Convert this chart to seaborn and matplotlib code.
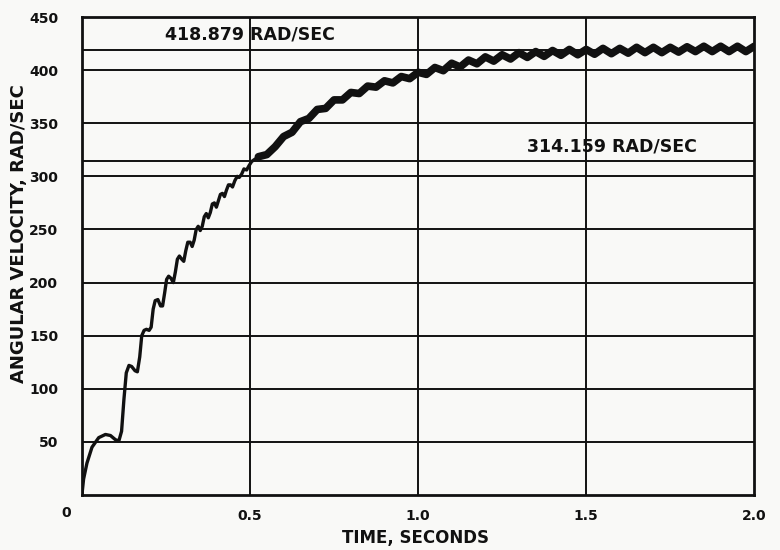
import numpy as np
import pandas as pd
import matplotlib
matplotlib.use("Agg")
import matplotlib.pyplot as plt
import seaborn as sns

# Motor start-up: angular velocity vs time
# early part with the distinct ripples
time_early = [0.000, 0.005, 0.015, 0.030, 0.050, 0.070, 0.085, 0.100, 0.110, 0.118,
              0.125, 0.132, 0.140, 0.148, 0.158, 0.165, 0.172, 0.178, 0.185, 0.192,
              0.200, 0.206, 0.212, 0.218, 0.226, 0.234, 0.240, 0.246, 0.252, 0.258,
              0.265, 0.272, 0.278, 0.284, 0.290, 0.297, 0.303, 0.309, 0.315, 0.322,
              0.328, 0.334, 0.340, 0.346, 0.352, 0.358, 0.364, 0.370, 0.376, 0.382,
              0.388, 0.394, 0.400, 0.406, 0.412, 0.418, 0.424, 0.430, 0.436, 0.442,
              0.448, 0.455, 0.462, 0.468, 0.475, 0.482, 0.490, 0.497, 0.505]
vel_early = [0, 15, 30, 45, 54, 57, 56, 52, 51, 60,
             90, 115, 122, 121, 117, 116, 130, 150, 155, 156,
             155, 158, 175, 183, 184, 178, 178, 190, 203, 206,
             204, 200, 210, 222, 225, 222, 220, 230, 238, 238,
             234, 240, 250, 253, 249, 253, 262, 265, 261, 266,
             274, 275, 271, 277, 283, 284, 281, 287, 292, 292,
             290, 296, 300, 299, 302, 307, 306, 310, 314]

# later part, where the trace becomes a noisy band
time_late = [0.525, 0.55, 0.575, 0.6, 0.625, 0.65, 0.675, 0.7, 0.725, 0.75,
             0.775, 0.8, 0.825, 0.85, 0.875, 0.9, 0.925, 0.95, 0.975, 1.0,
             1.025, 1.05, 1.075, 1.1, 1.125, 1.15, 1.175, 1.2, 1.225, 1.25,
             1.275, 1.3, 1.325, 1.35, 1.375, 1.4, 1.425, 1.45, 1.475, 1.5,
             1.525, 1.55, 1.575, 1.6, 1.625, 1.65, 1.675, 1.7, 1.725, 1.75,
             1.775, 1.8, 1.825, 1.85, 1.875, 1.9, 1.925, 1.95, 1.975, 2.0]
vel_late = [318.5, 320.5, 328, 337.5, 341.5, 351.5, 354.5, 363, 364, 372,
            372, 379, 378, 385, 384, 390, 388, 394, 392, 398,
            396, 402.5, 399.5, 406.5, 403, 409.5, 406, 412.5, 408.5, 414.5,
            410.5, 416.5, 412, 417.5, 413, 418.5, 414, 419.5, 414.5, 419.5,
            415, 420.5, 415.5, 420.5, 416, 421.5, 416.5, 421.5, 416.5, 421.5,
            417, 422, 417.5, 422.5, 417.5, 422.5, 417.5, 422.5, 417.5, 422.5]

ref_values = [418.879, 314.159]
ref_labels = ["418.879 RAD/SEC", "314.159 RAD/SEC"]
ref_label_pos = [(0.248, 434), (1.324, 328)]

y_ticks = [50, 100, 150, 200, 250, 300, 350, 400, 450]
x_ticks = [0.5, 1.0, 1.5, 2.0]

df = pd.DataFrame({"time": time_early + time_late, "vel": vel_early + vel_late})
df_late = pd.DataFrame({"time": time_late, "vel": vel_late})

sns.set_theme(style="white")
plt.rcParams["font.family"] = ["DejaVu Sans"]
plt.rcParams["font.weight"] = "bold"

ink = "#111111"
paper = "#f9f9f7"

fig, ax = plt.subplots(figsize=(7.8, 5.5), dpi=100)
fig.patch.set_facecolor(paper)
ax.set_facecolor(paper)
fig.subplots_adjust(left=0.105, right=0.967, top=0.969, bottom=0.1)

# grid
for y in y_ticks[:-1]:
    ax.axhline(y, color=ink, lw=1.4, zorder=1)
for x in x_ticks[:-1]:
    ax.axvline(x, color=ink, lw=1.4, zorder=1)
for v in ref_values:
    ax.axhline(v, color=ink, lw=1.4, zorder=1)
for txt, (tx, ty) in zip(ref_labels, ref_label_pos):
    ax.text(tx, ty, txt, fontsize=12.5, fontweight="bold", color=ink,
            va="center", ha="left", zorder=3)

sns.lineplot(data=df, x="time", y="vel", color=ink, lw=2.4, sort=False, ax=ax, zorder=4)
sns.lineplot(data=df_late, x="time", y="vel", color=ink, lw=5.5, sort=False, ax=ax, zorder=4)

ax.set_xlim(0, 2.0)
ax.set_ylim(0, 450)
ax.set_xticks(x_ticks)
ax.set_xticklabels([f"{x:.1f}" for x in x_ticks])
ax.set_yticks(y_ticks)
ax.set_yticklabels([str(y) for y in y_ticks])
ax.tick_params(axis="both", length=0, labelsize=10, colors=ink)
ax.tick_params(axis="y", pad=17)
ax.tick_params(axis="x", pad=10)
for lab in ax.get_xticklabels() + ax.get_yticklabels():
    lab.set_fontweight("bold")

# shared origin label
ax.annotate("0", xy=(0, 0), xytext=(-11, -13), textcoords="offset points",
            fontsize=10, fontweight="bold", color=ink, ha="center", va="center")

ax.set_xlabel("TIME, SECONDS", fontsize=12, fontweight="bold", color=ink)
ax.set_ylabel("ANGULAR VELOCITY, RAD/SEC", fontsize=13, fontweight="bold", color=ink)
ax.xaxis.set_label_coords(0.496, -0.071)
ax.yaxis.set_label_coords(-0.08, 0.547)

for s in ax.spines.values():
    s.set_visible(True)
    s.set_color(ink)
    s.set_linewidth(2.0)

fig.savefig("out.png", dpi=100, facecolor=paper)
